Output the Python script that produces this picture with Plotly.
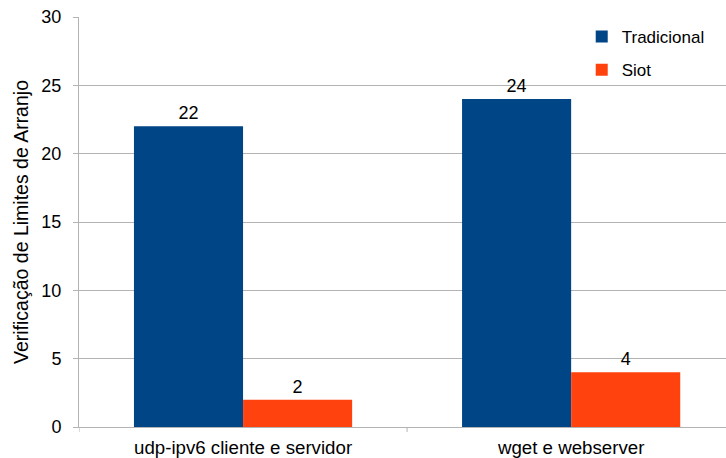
import plotly.graph_objects as go

categories = ["udp-ipv6 cliente e servidor", "wget e webserver"]
tradicional = [22, 24]
siot = [2, 4]
y_ticks = [0, 5, 10, 15, 20, 25, 30]

FONT = "Liberation Sans, Arial, sans-serif"

fig = go.Figure()
fig.add_trace(go.Bar(
    name="Tradicional", x=categories, y=tradicional,
    marker=dict(color="#004586", line=dict(width=0)),
    text=[str(v) for v in tradicional], textposition="outside",
    textfont=dict(size=18, color="#000000", family=FONT),
    cliponaxis=False, legendgroup="a",
))
fig.add_trace(go.Bar(
    name="Siot", x=categories, y=siot,
    marker=dict(color="#ff420e", line=dict(width=0)),
    text=[str(v) for v in siot], textposition="outside",
    textfont=dict(size=18, color="#000000", family=FONT),
    cliponaxis=False, legendgroup="b",
))

fig.update_layout(
    width=726, height=458,
    margin=dict(l=79, r=0, t=17, b=31),
    paper_bgcolor="white", plot_bgcolor="white",
    barmode="group", bargap=0.335, bargroupgap=0,
    font=dict(family=FONT, size=18, color="#000000"),
    showlegend=True,
    legend=dict(
        x=0.777, y=0.995, xanchor="left", yanchor="top",
        font=dict(size=17, family=FONT, color="#000000"),
        bgcolor="rgba(0,0,0,0)", tracegroupgap=8,
        itemwidth=30,
    ),
    xaxis=dict(
        range=[-0.5, 1.472],
        showgrid=False, showline=True, linecolor="#b3b3b3", linewidth=1,
        ticks="", tickfont=dict(size=18.7, family=FONT, color="#000000"),
        ticklabelstandoff=4,
        fixedrange=True,
    ),
    yaxis=dict(
        range=[0, 30], tickvals=y_ticks,
        showgrid=True, gridcolor="#b3b3b3", gridwidth=1,
        showline=True, linecolor="#b3b3b3", linewidth=1,
        ticks="outside", ticklen=5, tickcolor="#b3b3b3",
        tickfont=dict(size=18, family=FONT, color="#000000"),
        ticklabelstandoff=8,
        title=dict(text="Verificação de Limites de Arranjo",
                   font=dict(size=19.5, family=FONT, color="#000000"), standoff=7),
        zeroline=False,
    ),
)

# category separator ticks
for xv in [-0.5, 0.5, 1.5]:
    fig.add_shape(type="line", xref="x", yref="paper", x0=xv, x1=xv, y0=0, y1=-0.012,
                  line=dict(color="#b3b3b3", width=1))

fig.write_html("out.html")
